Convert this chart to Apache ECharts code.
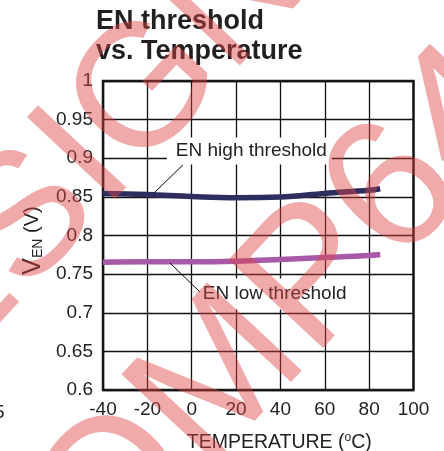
<!DOCTYPE html>
<html><head><meta charset="utf-8">
<script src="https://cdn.jsdelivr.net/npm/echarts@6/dist/echarts.min.js"></script>
<style>html,body{margin:0;padding:0;background:#fff}#c{width:444px;height:451px}</style>
</head><body><div id="c"></div>
<script>
// ---- data ----
const temps = [-40, -20, 0, 20, 40, 60, 80, 85];
const highThreshold = [0.8545, 0.853, 0.8505, 0.849, 0.8498, 0.8545, 0.8585, 0.8605];
const lowThreshold  = [0.7655, 0.766, 0.766, 0.7668, 0.769, 0.7715, 0.7742, 0.7755];
const xTickValues = [-40, -20, 0, 20, 40, 60, 80, 100];
const yTickValues = [0.6, 0.65, 0.7, 0.75, 0.8, 0.85, 0.9, 0.95, 1];
// annotation anchors in data coordinates
const highLabel = ['EN high threshold', -11.2, 0.9094];
const highLeader = [[-4.0, 0.8913], [-17.0, 0.855]];
const lowLabel = ['EN low threshold', 3.67, 0.7243];
const lowLeader = [[-9.8, 0.7644], [3.7, 0.7269]];

const FONT = '"Liberation Sans", Arial, Helvetica, sans-serif';
const TXT = '#222';
const chart = echarts.init(document.getElementById('c'));
chart.setOption({
  animation: false,
  backgroundColor: '#fff',
  title: {
    text: 'EN threshold\nvs. Temperature',
    left: 96, top: 7, padding: 0,
    textStyle: { fontSize: 27, fontWeight: 'bold', lineHeight: 30, color: '#231f20', fontFamily: FONT }
  },
  grid: { left: 103, right: 30.5, top: 81, bottom: 61, show: true, borderColor: '#1e1e1e', borderWidth: 2.5, outerBoundsMode: 'none' },
  xAxis: {
    type: 'value', min: xTickValues[0], max: xTickValues[xTickValues.length - 1], interval: 20,
    axisLine: { show: false }, axisTick: { show: false },
    splitLine: { show: true, lineStyle: { color: '#111', width: 1.3 } },
    axisLabel: { fontSize: 19, color: TXT, margin: 10, fontFamily: FONT },
    name: '{a|TEMPERATURE (}{s|o}{a|C)}', nameLocation: 'middle', nameGap: 42,
    nameTextStyle: {
      padding: [0, 0, 0, 42],
      rich: {
        a: { fontSize: 19.5, lineHeight: 22, color: TXT, fontFamily: FONT },
        s: { fontSize: 12, lineHeight: 12, verticalAlign: 'top', color: TXT, fontFamily: FONT }
      }
    }
  },
  yAxis: {
    type: 'value', min: yTickValues[0], max: yTickValues[yTickValues.length - 1], interval: 0.05,
    axisLine: { show: false }, axisTick: { show: false },
    splitLine: { show: true, lineStyle: { color: '#111', width: 1.3 } },
    axisLabel: { fontSize: 19, color: TXT, margin: 10, fontFamily: FONT },
    name: '{v|V}{e|EN}{p| (V)}', nameLocation: 'middle', nameGap: 57,
    nameTextStyle: {
      padding: [0, 10, 0, 0],
      rich: {
        v: { fontSize: 25, lineHeight: 26, verticalAlign: 'bottom', color: TXT, fontFamily: FONT },
        e: { fontSize: 14, lineHeight: 14, verticalAlign: 'bottom', color: TXT, fontFamily: FONT },
        p: { fontSize: 20, lineHeight: 20, verticalAlign: 'middle', color: TXT, fontFamily: FONT }
      }
    }
  },
  series: [
    { name: 'EN high threshold', type: 'line', smooth: 0.4, symbol: 'none', z: 3,
      data: temps.map((t, i) => [t, highThreshold[i]]),
      lineStyle: { color: '#2c2e5f', width: 5.5 } },
    { name: 'EN low threshold', type: 'line', smooth: 0.4, symbol: 'none', z: 3,
      data: temps.map((t, i) => [t, lowThreshold[i]]),
      lineStyle: { color: '#a85aa8', width: 5.5 } }
  ]
});

function px(p) { return chart.convertToPixel({ gridIndex: 0 }, p); }
const hp = px([highLabel[1], highLabel[2]]);
const lp = px([lowLabel[1], lowLabel[2]]);
const h1 = px(highLeader[0]), h2 = px(highLeader[1]);
const l1 = px(lowLeader[0]), l2 = px(lowLeader[1]);
const WM = 'rgba(222,67,67,0.45)';
chart.setOption({
  graphic: [
    { type: 'text', z: 10, x: hp[0], y: hp[1],
      style: { text: highLabel[0], align: 'left', verticalAlign: 'middle', font: '19px ' + FONT, fill: TXT, backgroundColor: '#fff', padding: [4, 5, 4, 9] } },
    { type: 'text', z: 10, x: lp[0], y: lp[1],
      style: { text: lowLabel[0], align: 'left', verticalAlign: 'middle', font: '19px ' + FONT, fill: TXT, backgroundColor: '#fff', padding: [6, 5, 6, 3] } },
    { type: 'line', z: 11, shape: { x1: h1[0], y1: h1[1], x2: h2[0], y2: h2[1] }, style: { stroke: '#000', lineWidth: 1 } },
    { type: 'line', z: 11, shape: { x1: l1[0], y1: l1[1], x2: l2[0], y2: l2[1] }, style: { stroke: '#000', lineWidth: 1 } },
    { type: 'text', z: 10, x: -6, y: 413, style: { text: '5', align: 'left', verticalAlign: 'middle', font: '19px ' + FONT, fill: TXT } },
    { type: 'text', z: 100, x: 52, y: 196, rotation: 47 * Math.PI / 180,
      style: { text: 'DESIGN', align: 'center', verticalAlign: 'middle', font: '175px ' + FONT, fill: WM } },
    { type: 'text', z: 100, x: 239, y: 362, rotation: 47 * Math.PI / 180,
      style: { text: 'COMP64', align: 'center', verticalAlign: 'middle', font: '188px ' + FONT, fill: WM } }
  ]
});
</script>
</body></html>
